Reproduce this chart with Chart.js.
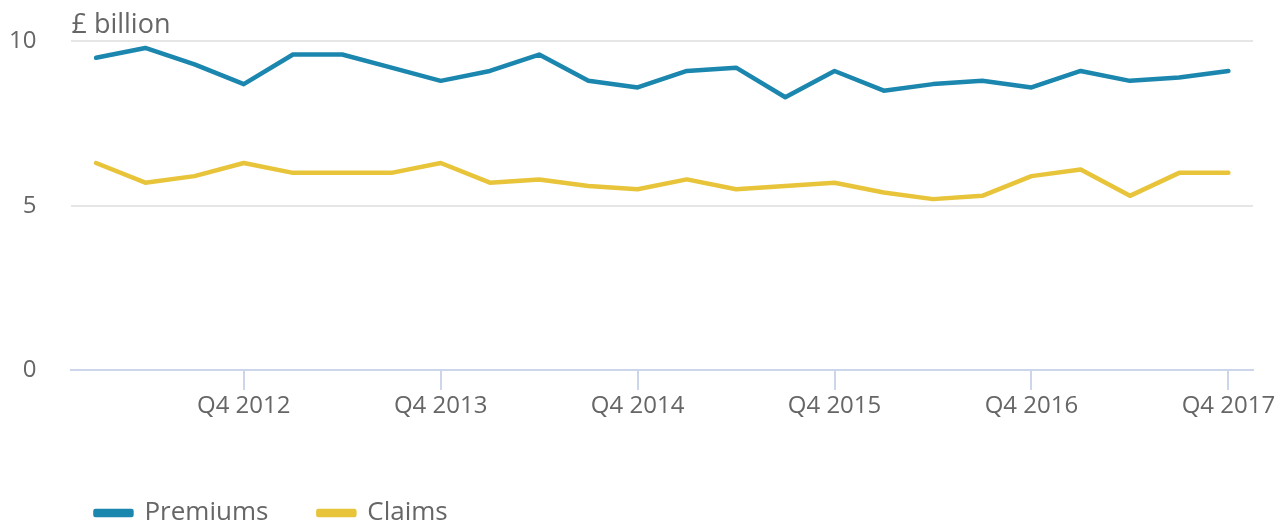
<!DOCTYPE html>
<html lang="en">
<head>
<meta charset="UTF-8">
<title>Premiums and claims</title>
<style>
  html, body { margin: 0; padding: 0; background: #fff; }
</style>
</head>
<body>
<canvas id="chart" width="1285" height="524"></canvas>

<script src="https://cdn.jsdelivr.net/npm/chart.js@4.4.1/dist/chart.umd.min.js"></script>
<script>
const quarters = [
  "Q1 2012", "Q2 2012", "Q3 2012", "Q4 2012",
  "Q1 2013", "Q2 2013", "Q3 2013", "Q4 2013",
  "Q1 2014", "Q2 2014", "Q3 2014", "Q4 2014",
  "Q1 2015", "Q2 2015", "Q3 2015", "Q4 2015",
  "Q1 2016", "Q2 2016", "Q3 2016", "Q4 2016",
  "Q1 2017", "Q2 2017", "Q3 2017", "Q4 2017"
];
const premiums = [
  9.5, 9.8, 9.3, 8.7,
  9.6, 9.6, 9.2, 8.8,
  9.1, 9.6, 8.8, 8.6,
  9.1, 9.2, 8.3, 9.1,
  8.5, 8.7, 8.8, 8.6,
  9.1, 8.8, 8.9, 9.1
];
const claims = [
  6.3, 5.7, 5.9, 6.3,
  6.0, 6.0, 6.0, 6.3,
  5.7, 5.8, 5.6, 5.5,
  5.8, 5.5, 5.6, 5.7,
  5.4, 5.2, 5.3, 5.9,
  6.1, 5.3, 6.0, 6.0
];
const unitLabel = "£ billion";

const textColor = "#666666";
const axisColor = "#ccd6eb";
const font = "'Open Sans', sans-serif";

// draws the "£ billion" label above the plot, lined up with its left edge
const unitTitle = {
  id: "unitTitle",
  afterDraw(chart) {
    const { ctx, chartArea } = chart;
    ctx.save();
    ctx.font = "27px " + font;
    ctx.fillStyle = textColor;
    ctx.textAlign = "left";
    ctx.textBaseline = "alphabetic";
    ctx.fillText(unitLabel, chartArea.left, 33);
    ctx.restore();
  }
};

const ctx = document.getElementById("chart").getContext("2d");
const chart = new Chart(ctx, {
  type: "line",
  data: {
    labels: quarters,
    datasets: [
      { label: "Premiums", data: premiums, borderColor: "#1c87ae", backgroundColor: "#1c87ae",
        borderWidth: 4.5, pointRadius: 0, tension: 0, borderJoinStyle: "round", borderCapStyle: "round", fill: false },
      { label: "Claims", data: claims, borderColor: "#e8c43a", backgroundColor: "#e8c43a",
        borderWidth: 4.5, pointRadius: 0, tension: 0, borderJoinStyle: "round", borderCapStyle: "round", fill: false }
    ]
  },
  options: {
    responsive: false,
    animation: false,
    layout: { padding: { top: 30, right: 32, bottom: -12, left: -18 } },
    plugins: {
      legend: {
        position: "bottom",
        align: "start",
        fullSize: false,
        labels: {
          boxWidth: 36,
          boxHeight: 4,
          padding: 24,
          color: textColor,
          font: { family: font, size: 26 },
          // a little extra room after each name, as in the original legend
          generateLabels(chart) {
            const items = Chart.defaults.plugins.legend.labels.generateLabels(chart);
            items.forEach(item => { item.text = item.text + "\u2002\u2002"; });
            return items;
          }
        }
      },
      tooltip: { enabled: false }
    },
    scales: {
      x: {
        offset: true,
        afterFit(scale) { scale.height = 106; },
        grid: {
          offset: false,
          drawOnChartArea: false,
          tickLength: 20,
          lineWidth: 2,
          color: c => (c.index % 4 === 3 ? axisColor : "rgba(0,0,0,0)")
        },
        border: { color: axisColor, width: 2 },
        ticks: {
          autoSkip: false,
          maxRotation: 0,
          padding: 2,
          color: textColor,
          font: { family: font, size: 24 },
          callback: function (value, index) {
            const label = this.getLabelForValue(value);
            return label.startsWith("Q4") ? label : "";
          }
        }
      },
      y: {
        min: 0,
        max: 10,
        grid: {
          drawTicks: true,
          tickLength: 8,
          tickColor: "rgba(0,0,0,0)",
          lineWidth: 2,
          color: c => (c.tick.value === 0 ? "rgba(0,0,0,0)" : "#e6e6e6")
        },
        border: { display: false },
        ticks: {
          stepSize: 5,
          padding: 27,
          color: textColor,
          font: { family: font, size: 24 }
        }
      }
    }
  },
  plugins: [unitTitle]
});
</script>
</body>
</html>
